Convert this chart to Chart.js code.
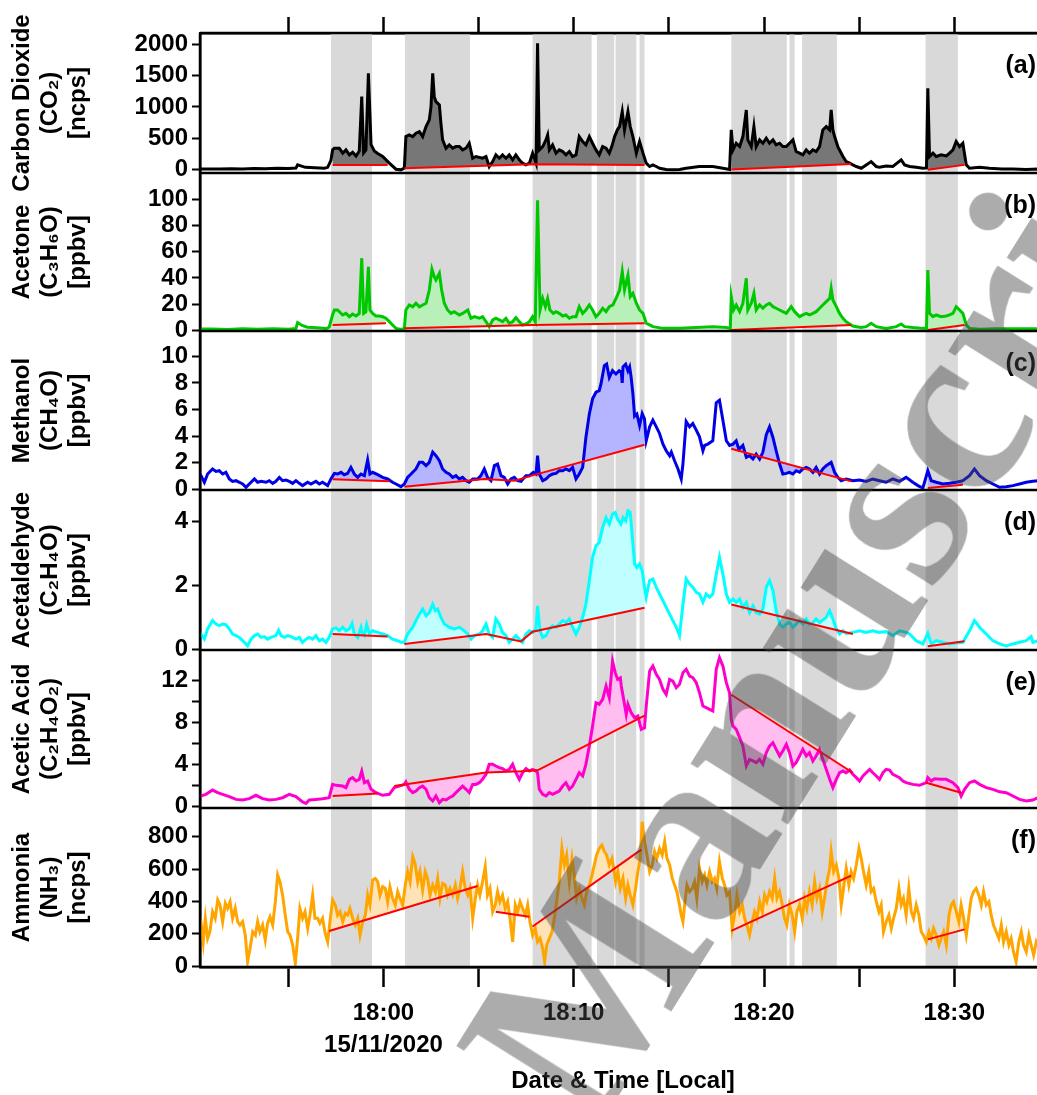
<!DOCTYPE html>
<html>
<head>
<meta charset="utf-8">
<script src="https://cdn.jsdelivr.net/npm/chart.js@4.4.0/dist/chart.umd.min.js"></script>
<style>
  html, body { margin: 0; padding: 0; background: #fff; overflow: hidden; }
  #wrap { position: relative; width: 1037px; height: 1095px; overflow: hidden; }
  #chart { position: absolute; left: 0; top: 0; }
  #mark {
    position: absolute; left: 594px; top: 1137px;
    font: bold 250px "Liberation Serif", "Times New Roman", serif;
    color: rgba(70, 70, 70, 0.45); white-space: nowrap; line-height: 1;
    transform-origin: 0 0; transform: rotate(-58deg) translateY(-0.84em);
    pointer-events: none;
  }
</style>
</head>
<body>
<div id="wrap">
  <canvas id="chart" width="1046" height="1095"></canvas>
  <div id="mark">Manuscript</div>
</div>
<script>
// time axis in minutes relative to 18:00 on 15/11/2020
const xMin = -9.64;
const xMax = 34.82;
const timeTicks = [-5, 0, 5, 10, 15, 20, 25, 30];
const timeLabels = ['', ['18:00', '15/11/2020'], '', '18:10', '', '18:20', '', '18:30'];

// shaded sampling periods
const bandStart = [-2.76, 1.13, 7.84, 11.22, 12.2, 13.46, 18.28, 21.34, 22.0, 28.49];
const bandEnd = [-0.6, 4.55, 10.94, 12.13, 13.29, 13.72, 21.2, 21.61, 23.83, 30.19];

// y tick values
const aTicks = [0, 500, 1000, 1500, 2000];
const bTicks = [0, 20, 40, 60, 80, 100];
const cTicks = [0, 2, 4, 6, 8, 10];
const dTicks = [0, 2, 4];
const eTicks = [0, 2, 4, 6, 8, 10, 12];
const eLabels = ['0', '', '4', '', '8', '', '12'];
const fTicks = [0, 200, 400, 600, 800];

const aTitle = ['Carbon Dioxide', '(CO\u2082)', '[ncps]'];
const bTitle = ['Acetone', '(C\u2083H\u2086O)', '[ppbv]'];
const cTitle = ['Methanol', '(CH\u2084O)', '[ppbv]'];
const dTitle = ['Acetaldehyde', '(C\u2082H\u2084O)', '[ppbv]'];
const eTitle = ['Acetic Acid', '(C\u2082H\u2084O\u2082)', '[ppbv]'];
const fTitle = ['Ammonia', '(NH\u2083)', '[ncps]'];

// [minute, value]
const co2 = [[-9.85,10],[-9.3,15],[-8.6,12],[-8.0,18],[-7.4,14],[-6.8,20],[-6.2,16],[-5.6,25],[-5.0,20],[-4.6,28],[-4.51,80],[-4.3,60],[-4.1,40],[-3.6,32],[-3.1,25],[-2.93,40],[-2.76,150],[-2.67,320],[-2.58,344],[-2.32,344],[-2.14,265],[-1.97,317],[-1.79,238],[-1.62,280],[-1.44,220],[-1.27,300],[-1.14,1164],[-1.04,270],[-0.92,317],[-0.79,1534],[-0.65,400],[-0.48,300],[-0.30,260],[-0.04,212],[0.31,106],[0.66,10],[0.92,0],[1.10,30],[1.18,529],[1.36,555],[1.54,529],[1.71,582],[1.89,608],[2.06,529],[2.24,688],[2.41,794],[2.50,1005],[2.59,1534],[2.67,1164],[2.76,1084],[2.94,1031],[3.02,741],[3.11,476],[3.29,344],[3.46,397],[3.64,344],[3.81,370],[3.99,370],[4.16,317],[4.34,344],[4.51,423],[4.69,185],[4.86,212],[5.21,185],[5.39,212],[5.56,53],[5.74,132],[5.91,238],[6.09,185],[6.26,238],[6.44,185],[6.61,238],[6.79,159],[6.96,238],[7.14,159],[7.31,106],[7.49,79],[7.67,106],[7.84,265],[8.02,106],[8.10,2010],[8.19,317],[8.37,370],[8.54,476],[8.63,555],[8.72,317],[8.89,397],[9.07,265],[9.24,317],[9.42,291],[9.59,238],[9.77,291],[9.94,212],[10.12,238],[10.29,529],[10.47,450],[10.64,397],[10.82,529],[10.99,423],[11.17,317],[11.34,238],[11.52,370],[11.70,344],[11.87,265],[12.0,370],[12.15,529],[12.3,640],[12.41,688],[12.55,926],[12.67,635],[12.85,926],[12.97,688],[13.11,529],[13.29,265],[13.46,450],[13.64,265],[13.81,106],[13.99,53],[14.16,79],[14.34,53],[14.51,26],[14.86,5],[15.21,0],[15.56,5],[15.91,26],[16.6,53],[17.31,53],[17.84,26],[18.19,5],[18.28,635],[18.37,317],[18.54,423],[18.72,370],[18.89,529],[19.07,952],[19.15,476],[19.33,370],[19.47,688],[19.59,370],[19.77,476],[19.94,423],[20.12,503],[20.29,423],[20.47,476],[20.64,397],[20.82,423],[20.99,370],[21.17,370],[21.34,423],[21.52,476],[21.69,291],[21.87,265],[22.04,238],[22.22,317],[22.39,265],[22.57,317],[22.74,291],[22.92,370],[23.09,635],[23.27,688],[23.45,635],[23.53,952],[23.62,635],[23.71,529],[23.88,370],[24.15,212],[24.32,132],[24.50,106],[24.67,79],[24.85,53],[25.11,26],[25.37,79],[25.63,132],[25.90,53],[26.07,40],[26.42,60],[26.77,53],[27.21,159],[27.39,79],[27.65,53],[28.0,40],[28.35,26],[28.54,30],[28.61,1296],[28.70,212],[28.88,265],[29.05,212],[29.31,238],[29.58,222],[29.75,265],[29.93,317],[30.10,450],[30.28,370],[30.45,423],[30.63,79],[30.80,26],[31.33,40],[31.85,26],[32.5,15],[33.08,15],[33.78,5],[34.39,15],[34.9,10]];

const acetone = [[-9.85,1],[-9.0,1.2],[-8.2,0.8],[-7.4,1.3],[-6.6,0.9],[-5.8,1.4],[-5.0,1],[-4.6,1.5],[-4.51,6],[-4.3,4],[-4.0,2.5],[-3.5,2],[-3.0,1.5],[-2.85,2.5],[-2.67,12],[-2.58,15.6],[-2.41,15.6],[-2.14,11.8],[-1.97,13],[-1.79,10.5],[-1.62,12.5],[-1.44,11],[-1.27,13],[-1.14,55],[-1.04,13],[-0.92,14.3],[-0.79,48.5],[-0.71,15.6],[-0.57,13],[-0.39,11],[-0.22,11],[-0.04,10.5],[0.13,9.3],[0.31,6.7],[0.48,4.2],[0.66,1.6],[0.92,0.8],[1.10,1.6],[1.18,15.6],[1.36,19.4],[1.54,18],[1.71,20.7],[1.89,18],[2.06,19.4],[2.24,20.7],[2.41,30.8],[2.55,46.5],[2.67,40.9],[2.76,38.4],[2.94,43.5],[3.06,30.8],[3.20,20.7],[3.37,15.6],[3.55,13],[3.72,14.3],[3.99,11.8],[4.16,13],[4.43,15.6],[4.60,9.3],[4.78,10.5],[5.04,9.3],[5.21,10.5],[5.39,6.7],[5.56,2.9],[5.74,8],[5.91,9.3],[6.09,8],[6.26,6.7],[6.44,9.3],[6.61,5.5],[6.79,6.7],[6.96,9.8],[7.14,6.7],[7.31,4.2],[7.49,4.9],[7.67,6.7],[7.84,10.5],[7.98,6.7],[8.10,99],[8.23,15.6],[8.37,24.4],[8.51,18.1],[8.63,24.4],[8.75,15.6],[8.93,13],[9.07,14.3],[9.24,13],[9.42,11],[9.59,11.8],[9.77,9.3],[9.94,10.5],[10.12,10.5],[10.29,18.1],[10.47,13],[10.64,15.6],[10.82,19.4],[10.99,15.6],[11.17,10.5],[11.34,13],[11.52,16.9],[11.70,14.3],[11.87,18.1],[12.06,19.4],[12.24,25],[12.41,30.8],[12.55,44.8],[12.67,30.8],[12.85,42],[12.97,25.7],[13.11,28.3],[13.29,20.7],[13.46,15.6],[13.64,13],[13.81,5.5],[13.99,4.2],[14.16,2.9],[14.69,1.6],[15.56,1.6],[16.44,2.2],[17.31,2.9],[18.02,2.2],[18.23,1.6],[18.28,25.7],[18.40,15.6],[18.54,19.4],[18.72,14.3],[18.89,20.7],[19.07,39.7],[19.15,15.6],[19.33,20.7],[19.47,28.3],[19.59,15.6],[19.77,19.4],[19.94,16.9],[20.12,19.4],[20.29,20.7],[20.47,18.1],[20.64,16.9],[20.82,15.6],[20.99,14.3],[21.17,13],[21.43,18.1],[21.61,14.3],[21.87,10.5],[22.04,11.8],[22.22,13],[22.39,11.8],[22.57,13],[22.74,14.3],[22.92,16.9],[23.09,19.4],[23.27,21.9],[23.45,24.4],[23.53,32],[23.62,23.2],[23.80,18.1],[23.97,13],[24.15,9.3],[24.32,6.7],[24.50,4.9],[24.67,3.4],[24.85,2.9],[25.11,2.2],[25.37,2.9],[25.63,5.5],[25.90,2.9],[26.42,1.6],[26.95,2.9],[27.21,4.9],[27.39,2.9],[27.82,2.2],[28.35,1.6],[28.54,1.6],[28.61,46],[28.70,13],[28.88,10.5],[29.05,11.8],[29.31,10.5],[29.58,11],[29.75,11.8],[29.93,13],[30.10,18.1],[30.28,15.6],[30.45,13],[30.63,4.2],[30.80,1.6],[31.33,0.9],[32.2,1.3],[33.08,1.3],[34.39,1.3],[34.9,1.2]];

const methanol = [[-9.85,0.9],[-9.59,1.03],[-9.41,0.53],[-9.24,1.15],[-8.98,1.53],[-8.80,1.35],[-8.63,1.4],[-8.45,1.15],[-8.28,1.28],[-8.10,0.78],[-7.93,0.6],[-7.75,0.65],[-7.57,0.53],[-7.40,0.4],[-7.22,0.15],[-7.05,0.4],[-6.78,0.78],[-6.61,0.53],[-6.43,0.6],[-6.17,0.53],[-6.0,0.65],[-5.82,0.45],[-5.65,0.6],[-5.47,0.9],[-5.30,0.65],[-5.12,0.7],[-4.95,0.6],[-4.77,0.45],[-4.60,0.65],[-4.42,0.45],[-4.25,0.28],[-3.98,0.53],[-3.81,0.4],[-3.55,0.6],[-3.37,0.4],[-3.20,0.53],[-2.93,0.28],[-2.76,0.78],[-2.58,1.2],[-2.41,1.15],[-2.23,1.28],[-2.06,1.1],[-1.88,1.2],[-1.71,1.65],[-1.53,1.15],[-1.35,0.9],[-1.18,1.15],[-1.00,1.03],[-0.83,2.2],[-0.71,1.15],[-0.57,1.28],[-0.30,1.1],[-0.04,0.9],[0.22,0.78],[0.48,0.53],[0.66,0.4],[0.92,0.2],[1.10,0.4],[1.27,0.9],[1.45,1.15],[1.71,1.53],[1.89,2.03],[2.06,2.03],[2.24,1.78],[2.41,2.03],[2.59,2.8],[2.76,2.53],[2.94,2.15],[3.11,1.53],[3.29,1.28],[3.46,1.15],[3.64,0.9],[3.81,1.03],[3.99,0.78],[4.16,0.9],[4.34,0.65],[4.51,0.53],[4.69,0.78],[4.95,0.78],[5.12,1.03],[5.30,1.53],[5.47,0.9],[5.65,0.65],[5.83,1.78],[6.00,1.9],[6.18,1.03],[6.35,0.9],[6.53,0.4],[6.70,0.78],[6.88,0.9],[7.05,0.65],[7.23,0.6],[7.49,1.03],[7.67,1.03],[7.88,1.28],[8.02,1.15],[8.10,2.53],[8.19,1.15],[8.37,0.65],[8.54,0.78],[8.72,1.03],[8.89,1.15],[9.07,1.2],[9.24,1.4],[9.42,1.4],[9.59,1.53],[9.77,1.4],[9.94,1.65],[10.12,0.78],[10.29,1.15],[10.47,1.65],[10.64,3.9],[10.82,5.66],[10.99,6.8],[11.17,7.3],[11.34,7.42],[11.43,7.9],[11.61,9.3],[11.73,9.42],[11.87,8.4],[12.04,8.92],[12.22,8.67],[12.39,8.92],[12.50,8.8],[12.55,8.0],[12.59,9.2],[12.73,9.4],[12.85,8.9],[12.94,9.2],[13.02,8.4],[13.11,7.2],[13.20,5.5],[13.32,5.66],[13.46,4.8],[13.60,5.7],[13.72,5.3],[13.81,3.65],[13.99,4.7],[14.16,5.2],[14.34,4.7],[14.51,4.2],[14.69,3.4],[14.86,2.9],[15.04,2.53],[15.13,2.8],[15.30,2.15],[15.48,1.53],[15.65,0.78],[15.74,1.9],[15.91,5.1],[16.09,4.7],[16.26,4.95],[16.44,4.45],[16.61,3.95],[16.79,2.9],[16.88,3.3],[17.05,3.4],[17.31,3.65],[17.49,6.5],[17.66,6.7],[17.84,5.2],[18.02,3.65],[18.19,3.3],[18.37,3.4],[18.54,3.65],[18.68,3.0],[18.89,3.3],[19.07,2.4],[19.24,2.53],[19.42,2.28],[19.59,2.65],[19.77,2.28],[19.94,2.78],[20.12,4.1],[20.29,4.7],[20.47,3.9],[20.64,2.9],[20.82,1.9],[20.99,1.15],[21.17,1.2],[21.34,1.28],[21.52,1.15],[21.69,1.4],[21.87,1.28],[22.04,1.53],[22.22,1.65],[22.39,1.53],[22.57,1.28],[22.74,1.65],[22.92,1.15],[23.09,1.53],[23.27,1.78],[23.53,2.03],[23.71,1.28],[23.88,0.9],[24.06,0.65],[24.32,0.78],[24.67,0.65],[25.02,0.7],[25.37,0.6],[25.72,0.78],[26.07,0.65],[26.42,0.53],[26.77,0.78],[27.12,0.6],[27.47,0.9],[27.82,0.53],[28.09,0.28],[28.35,0.1],[28.61,1.4],[28.79,0.65],[29.05,0.53],[29.40,0.4],[29.75,0.45],[30.10,0.53],[30.45,0.65],[30.80,1.03],[31.06,1.53],[31.33,1.03],[31.68,0.65],[32.03,0.4],[32.38,0.15],[32.73,0.2],[33.08,0.28],[33.43,0.4],[33.78,0.53],[34.13,0.6],[34.39,0.65],[34.9,0.6]];

const acetaldehyde = [[-9.85,0.6],[-9.59,0.48],[-9.41,0.32],[-9.24,0.64],[-8.98,0.9],[-8.80,0.79],[-8.63,0.74],[-8.45,0.79],[-8.28,0.77],[-8.10,0.64],[-7.93,0.48],[-7.75,0.43],[-7.57,0.375],[-7.31,0.22],[-7.14,0.11],[-6.96,0.32],[-6.78,0.43],[-6.61,0.48],[-6.43,0.375],[-6.26,0.4],[-6.09,0.32],[-5.91,0.375],[-5.65,0.43],[-5.51,0.6],[-5.38,0.43],[-5.21,0.375],[-5.03,0.43],[-4.86,0.4],[-4.60,0.32],[-4.42,0.375],[-4.25,0.22],[-4.07,0.32],[-3.90,0.375],[-3.72,0.32],[-3.55,0.43],[-3.37,0.27],[-3.20,0.32],[-3.02,0.22],[-2.85,0.375],[-2.67,0.64],[-2.49,0.67],[-2.32,0.58],[-2.14,0.69],[-1.97,0.58],[-1.79,0.64],[-1.65,0.81],[-1.53,0.48],[-1.35,0.375],[-1.18,0.69],[-1.09,0.48],[-1.00,0.43],[-0.88,0.77],[-0.74,0.48],[-0.57,0.58],[-0.30,0.53],[-0.04,0.48],[0.22,0.43],[0.48,0.32],[0.75,0.27],[0.92,0.22],[1.10,0.22],[1.27,0.48],[1.54,0.69],[1.71,0.9],[1.89,1.1],[2.06,1.26],[2.24,1.05],[2.41,1.15],[2.59,1.41],[2.73,1.21],[2.85,1.26],[3.02,1.0],[3.20,0.79],[3.46,0.69],[3.72,0.64],[3.99,0.69],[4.25,0.58],[4.43,0.48],[4.60,0.32],[4.78,0.43],[5.04,0.48],[5.21,0.58],[5.39,0.79],[5.56,0.48],[5.74,0.375],[5.91,0.95],[6.09,0.79],[6.26,0.53],[6.44,0.43],[6.61,0.22],[6.79,0.32],[6.96,0.43],[7.14,0.32],[7.31,0.22],[7.49,0.48],[7.67,0.58],[7.84,0.53],[8.02,0.64],[8.10,1.36],[8.23,0.58],[8.37,0.375],[8.54,0.43],[8.72,0.64],[8.89,0.74],[9.07,0.69],[9.24,0.79],[9.42,0.9],[9.59,0.84],[9.77,0.95],[9.94,0.69],[10.12,0.48],[10.29,0.69],[10.47,1.0],[10.64,1.41],[10.82,2.15],[10.99,2.88],[11.17,3.24],[11.34,3.34],[11.52,3.81],[11.70,4.12],[11.87,3.92],[12.04,4.23],[12.18,4.28],[12.31,4.07],[12.48,3.92],[12.59,4.12],[12.73,4.02],[12.85,4.33],[12.97,4.28],[13.08,3.5],[13.20,2.67],[13.32,2.56],[13.46,2.67],[13.60,2.46],[13.72,1.94],[13.81,1.63],[13.99,2.15],[14.16,2.2],[14.34,1.94],[14.51,1.73],[14.69,1.52],[14.86,1.31],[15.04,1.1],[15.21,0.9],[15.39,0.69],[15.56,0.43],[15.74,1.41],[15.91,2.2],[16.09,2.04],[16.26,1.94],[16.44,1.78],[16.61,1.73],[16.79,1.47],[16.96,1.73],[17.14,1.63],[17.31,1.73],[17.49,2.35],[17.66,2.88],[17.84,2.35],[18.02,1.73],[18.19,1.47],[18.37,1.57],[18.54,1.47],[18.72,1.57],[18.89,1.31],[19.07,1.47],[19.24,1.15],[19.42,1.36],[19.59,1.15],[19.77,1.1],[19.94,1.26],[20.12,1.94],[20.29,2.15],[20.47,1.84],[20.64,1.21],[20.82,0.79],[20.99,0.69],[21.17,0.79],[21.34,0.84],[21.52,0.69],[21.69,0.79],[21.87,0.9],[22.04,0.79],[22.22,0.95],[22.39,0.79],[22.57,0.84],[22.74,0.95],[22.92,0.84],[23.27,1.0],[23.45,1.21],[23.62,0.95],[23.80,0.64],[23.97,0.48],[24.15,0.58],[24.32,0.5],[24.67,0.53],[25.02,0.58],[25.37,0.53],[25.72,0.58],[26.07,0.53],[26.42,0.56],[26.77,0.43],[27.12,0.58],[27.47,0.53],[27.65,0.48],[28.00,0.27],[28.35,0.17],[28.61,0.5],[28.79,0.17],[29.05,0.27],[29.40,0.22],[29.75,0.17],[30.10,0.2],[30.45,0.22],[30.80,0.58],[31.06,0.9],[31.33,0.69],[31.68,0.48],[32.03,0.27],[32.38,0.17],[32.73,0.11],[33.08,0.17],[33.43,0.22],[33.78,0.27],[34.04,0.4],[34.13,0.22],[34.39,0.27],[34.9,0.3]];

const aceticAcid = [[-9.85,1.0],[-9.59,0.95],[-9.33,1.11],[-8.98,1.52],[-8.71,1.27],[-8.45,1.11],[-8.10,0.89],[-7.75,0.63],[-7.40,0.57],[-7.05,0.7],[-6.70,1.02],[-6.35,0.7],[-6.00,0.57],[-5.65,0.63],[-5.30,0.79],[-4.95,1.11],[-4.60,0.89],[-4.25,0.38],[-4.07,0.25],[-3.90,0.57],[-3.55,0.63],[-3.20,0.7],[-2.85,0.79],[-2.67,2.06],[-2.49,1.97],[-2.14,1.9],[-1.97,1.75],[-1.79,2.54],[-1.62,2.7],[-1.44,2.38],[-1.27,2.54],[-1.14,3.33],[-1.00,2.22],[-0.83,2.38],[-0.65,1.59],[-0.39,1.27],[-0.04,1.02],[0.31,1.11],[0.57,1.75],[0.83,1.9],[1.10,2.06],[1.18,2.29],[1.36,1.59],[1.54,1.27],[1.71,1.43],[1.89,1.75],[2.06,1.9],[2.24,1.59],[2.41,0.79],[2.59,0.48],[2.76,0.95],[2.94,0.32],[3.11,0.63],[3.29,0.57],[3.46,0.79],[3.64,0.95],[3.81,1.27],[3.99,1.59],[4.16,1.9],[4.34,1.59],[4.51,1.27],[4.69,2.06],[4.86,2.06],[5.04,2.22],[5.21,2.54],[5.39,3.02],[5.56,3.97],[5.74,3.97],[5.91,3.81],[6.09,3.65],[6.26,3.56],[6.44,3.33],[6.61,3.49],[6.79,3.97],[6.96,3.17],[7.14,2.54],[7.31,3.17],[7.49,3.56],[7.67,3.33],[7.84,3.49],[8.02,3.33],[8.10,3.17],[8.19,1.59],[8.37,1.11],[8.54,0.95],[8.72,1.27],[8.89,1.11],[9.07,1.27],[9.24,1.43],[9.42,1.9],[9.59,2.22],[9.77,1.59],[9.94,1.9],[10.12,2.54],[10.29,3.17],[10.47,2.86],[10.64,3.97],[10.82,5.71],[10.99,7.62],[11.17,9.84],[11.34,9.68],[11.52,10.16],[11.70,11.43],[11.87,10.3],[12.04,13.81],[12.18,12.7],[12.31,12.06],[12.45,12.2],[12.50,11.43],[12.67,9.68],[12.76,8.73],[12.85,9.68],[13.02,8.89],[13.20,8.41],[13.37,8.57],[13.55,7.3],[13.72,7.46],[13.81,9.52],[13.99,12.86],[14.16,13.33],[14.34,12.54],[14.51,12.06],[14.69,11.11],[14.86,10.63],[15.04,12.06],[15.21,11.9],[15.39,11.27],[15.56,11.59],[15.74,12.7],[15.91,13.02],[16.09,12.38],[16.26,12.22],[16.44,11.75],[16.61,10.79],[16.79,9.52],[16.96,9.37],[17.14,9.21],[17.31,9.05],[17.49,13.02],[17.66,14.13],[17.84,13.33],[18.02,11.75],[18.19,10.79],[18.28,8.25],[18.37,7.62],[18.54,7.3],[18.72,6.51],[18.89,5.71],[19.07,3.81],[19.24,4.44],[19.42,4.29],[19.59,4.13],[19.77,4.44],[19.94,3.97],[20.12,5.08],[20.29,5.71],[20.47,6.03],[20.64,5.4],[20.82,4.76],[20.99,5.24],[21.17,5.87],[21.34,5.08],[21.52,3.81],[21.69,4.13],[21.87,4.76],[22.04,5.4],[22.22,4.76],[22.39,5.08],[22.57,4.29],[22.74,4.76],[22.92,5.4],[23.09,4.44],[23.27,3.49],[23.45,2.54],[23.62,1.75],[23.80,2.54],[23.97,3.17],[24.15,3.33],[24.32,3.17],[24.50,3.43],[24.67,3.02],[24.85,2.7],[25.02,2.38],[25.20,2.86],[25.37,3.17],[25.55,3.49],[25.72,3.17],[25.90,2.86],[26.07,2.54],[26.25,3.17],[26.42,3.49],[26.60,3.43],[26.77,3.02],[26.95,2.86],[27.12,2.7],[27.30,2.38],[27.47,2.22],[27.82,2.06],[28.17,1.97],[28.53,2.22],[28.61,2.7],[28.79,2.38],[28.96,2.6],[29.31,2.54],[29.58,2.54],[29.93,2.22],[30.19,1.75],[30.36,0.95],[30.54,1.59],[30.80,2.22],[31.06,2.38],[31.33,2.06],[31.68,1.75],[32.03,1.59],[32.38,1.35],[32.73,1.27],[33.08,0.95],[33.43,0.63],[33.78,0.48],[34.13,0.57],[34.39,0.79],[34.9,0.8]];

const ammonia = [[-9.85,250],[-9.59,274],[-9.47,149],[-9.36,295],[-9.24,171],[-9.12,212],[-8.98,336],[-8.84,295],[-8.71,408],[-8.59,378],[-8.45,274],[-8.31,388],[-8.19,357],[-8.06,398],[-7.93,295],[-7.79,357],[-7.66,274],[-7.54,254],[-7.40,274],[-7.26,191],[-7.14,27],[-7.01,109],[-6.87,212],[-6.73,191],[-6.61,274],[-6.49,212],[-6.35,254],[-6.21,160],[-6.09,264],[-5.96,305],[-5.82,254],[-5.68,398],[-5.56,563],[-5.44,522],[-5.30,439],[-5.16,315],[-5.03,212],[-4.91,191],[-4.77,130],[-4.63,16],[-4.51,171],[-4.39,357],[-4.25,295],[-4.12,336],[-3.98,233],[-3.86,315],[-3.72,439],[-3.60,295],[-3.46,295],[-3.34,264],[-3.20,295],[-3.06,202],[-2.93,149],[-2.81,274],[-2.67,408],[-2.53,378],[-2.41,315],[-2.28,336],[-2.14,274],[-2.00,326],[-1.88,315],[-1.76,357],[-1.62,295],[-1.48,254],[-1.35,295],[-1.23,191],[-1.09,274],[-0.95,315],[-0.83,439],[-0.71,378],[-0.57,532],[-0.43,542],[-0.30,522],[-0.18,439],[-0.04,491],[0.10,480],[0.22,398],[0.34,491],[0.48,419],[0.62,378],[0.75,460],[0.87,419],[1.01,378],[1.15,501],[1.27,584],[1.40,522],[1.54,677],[1.66,635],[1.80,522],[1.92,584],[2.06,470],[2.20,584],[2.32,542],[2.45,439],[2.59,501],[2.73,460],[2.85,542],[2.97,419],[3.11,511],[3.25,501],[3.37,439],[3.50,480],[3.64,439],[3.78,501],[3.90,419],[4.02,480],[4.16,584],[4.30,480],[4.43,439],[4.55,480],[4.69,295],[4.83,419],[4.95,501],[5.07,439],[5.21,522],[5.35,615],[5.47,439],[5.60,480],[5.74,336],[5.88,378],[6.00,460],[6.12,398],[6.26,439],[6.40,357],[6.53,398],[6.65,295],[6.79,149],[6.93,378],[7.05,336],[7.18,398],[7.31,357],[7.46,315],[7.58,378],[7.70,274],[7.84,191],[7.98,233],[8.10,149],[8.23,171],[8.37,108],[8.47,27],[8.58,130],[8.72,171],[8.86,212],[8.98,295],[9.10,398],[9.24,522],[9.38,728],[9.51,625],[9.63,687],[9.77,522],[9.91,666],[10.03,563],[10.15,419],[10.29,480],[10.43,419],[10.56,378],[10.68,460],[10.82,501],[10.96,563],[11.08,625],[11.20,687],[11.34,728],[11.48,749],[11.61,708],[11.73,687],[11.87,625],[12.01,666],[12.13,584],[12.20,522],[12.32,584],[12.45,480],[12.59,542],[12.73,419],[12.85,501],[12.97,439],[13.11,378],[13.25,480],[13.37,584],[13.50,666],[13.60,893],[13.72,770],[13.85,687],[13.99,584],[14.13,625],[14.25,708],[14.37,666],[14.51,728],[14.65,687],[14.78,770],[14.90,666],[15.04,625],[15.18,542],[15.30,501],[15.42,460],[15.56,378],[15.65,315],[15.74,274],[15.83,378],[15.95,501],[16.09,460],[16.23,480],[16.35,522],[16.47,419],[16.61,604],[16.75,522],[16.88,563],[17.00,501],[17.14,584],[17.28,522],[17.40,542],[17.52,480],[17.66,646],[17.81,542],[17.93,501],[18.05,439],[18.19,460],[18.33,233],[18.45,315],[18.58,439],[18.72,336],[18.86,378],[18.98,295],[19.10,254],[19.24,191],[19.38,274],[19.50,336],[19.63,295],[19.77,398],[19.91,336],[20.03,439],[20.15,398],[20.29,460],[20.43,419],[20.56,542],[20.68,419],[20.82,460],[20.96,378],[21.08,295],[21.20,254],[21.34,378],[21.48,315],[21.61,212],[21.73,336],[21.87,378],[22.01,295],[22.13,419],[22.25,357],[22.39,460],[22.53,378],[22.66,522],[22.78,419],[22.92,480],[23.06,336],[23.18,419],[23.31,522],[23.45,604],[23.53,708],[23.66,584],[23.80,625],[23.94,542],[24.06,378],[24.18,480],[24.32,604],[24.46,501],[24.58,584],[24.71,542],[24.85,625],[24.99,728],[25.11,666],[25.23,584],[25.37,501],[25.51,584],[25.63,460],[25.76,480],[25.90,398],[26.04,336],[26.16,378],[26.28,212],[26.42,274],[26.56,315],[26.69,233],[26.81,295],[26.95,357],[27.09,480],[27.21,378],[27.33,419],[27.47,315],[27.61,480],[27.74,336],[27.86,295],[28.00,378],[28.14,315],[28.26,212],[28.38,191],[28.53,149],[28.67,212],[28.79,171],[28.91,233],[29.05,191],[29.19,130],[29.31,171],[29.44,212],[29.58,130],[29.72,315],[29.84,378],[29.96,398],[30.10,336],[30.24,274],[30.36,378],[30.49,295],[30.63,191],[30.77,315],[30.89,419],[31.01,460],[31.15,480],[31.29,439],[31.42,378],[31.54,460],[31.68,378],[31.82,398],[31.94,315],[32.06,254],[32.20,212],[32.34,171],[32.47,254],[32.59,149],[32.73,212],[32.87,130],[32.99,171],[33.11,89],[33.25,27],[33.39,149],[33.52,212],[33.64,130],[33.78,89],[33.92,191],[34.04,130],[34.17,68],[34.31,149],[34.39,130],[34.9,160]];

// red integration baselines, one polyline per sampling period
const co2Base = [[[-2.67,79],[0.22,79]], [[1.10,26],[7.84,90],[13.72,79]], [[18.28,5],[24.58,95]], [[28.61,0],[30.54,79]]];
const acetoneBase = [[[-2.67,4.2],[0.13,5.5]], [[1.10,1.6],[7.84,4.2],[13.72,5.5]], [[18.28,0.4],[24.58,4.2]], [[28.61,0.4],[30.54,4.2]]];
const methanolBase = [[[-2.67,0.75],[0.31,0.6]], [[1.10,0.2],[5.30,0.78],[6.90,0.65],[7.84,1.05],[13.72,3.35]], [[18.28,3.05],[24.6,0.6]], [[28.61,0.1],[30.45,0.35]]];
const acetaldehydeBase = [[[-2.67,0.48],[0.22,0.4]], [[1.10,0.17],[5.39,0.48],[7.23,0.25],[7.84,0.55],[13.72,1.3]], [[18.28,1.4],[24.67,0.48]], [[28.61,0.1],[30.54,0.25]]];
const aceticAcidBase = [[[-2.67,0.95],[-0.30,1.2]], [[0.57,1.9],[5.39,3.2],[7.23,3.3],[8.10,3.4],[13.72,8.6]], [[18.28,10.6],[24.67,3.17]], [[28.53,2.22],[30.36,1.27]]];
const ammoniaBase = [[[-2.85,217],[4.95,495]], [[5.90,336],[7.67,305]], [[7.84,245],[13.55,720]], [[18.28,217],[24.58,560]], [[28.61,165],[30.54,227]]];

const FONT = '"Liberation Sans", Arial, sans-serif';

const panels = [
    { id: 'yA', data: co2, base: co2Base, ticks: aTicks, title: aTitle, tag: '(a)', min: -50, max: 2175, h: 140, line: '#000000', fill: '#777777' },
    { id: 'yB', data: acetone, base: acetoneBase, ticks: bTicks, title: bTitle, tag: '(b)', min: -0.4, max: 119.8, h: 158, line: '#00c800', fill: '#b9efb9' },
    { id: 'yC', data: methanol, base: methanolBase, ticks: cTicks, title: cTitle, tag: '(c)', min: -0.05, max: 11.9, h: 159, line: '#0000e6', fill: '#b4b4ff' },
    { id: 'yD', data: acetaldehyde, base: acetaldehydeBase, ticks: dTicks, title: dTitle, tag: '(d)', min: -0.02, max: 4.98, h: 160, line: '#00ffff', fill: '#c0ffff' },
    { id: 'yE', data: aceticAcid, base: aceticAcidBase, ticks: eTicks, labels: eLabels, title: eTitle, tag: '(e)', min: -0.19, max: 14.86, h: 158, line: '#ff00cc', fill: '#ffbdf0' },
    { id: 'yF', data: ammonia, base: ammoniaBase, ticks: fTicks, title: fTitle, tag: '(f)', min: -6, max: 978, h: 159, line: '#ffa500', fill: '#ffe3b8' }
];

function toPoints(arr) {
    return arr.map(([x, y]) => ({ x: x, y: y }));
}

function baseToPoints(segments) {
    const out = [];
    segments.forEach((seg, i) => {
        if (i > 0) out.push({ x: seg[0][0], y: null });
        seg.forEach(([x, y]) => out.push({ x: x, y: y }));
    });
    return out;
}

const datasets = [];
panels.forEach(p => {
    const baseIndex = datasets.length + 1;
    datasets.push({
        data: toPoints(p.data),
        yAxisID: p.id,
        borderColor: p.line,
        borderWidth: 3,
        pointRadius: 0,
        tension: 0,
        order: 1,
        fill: { target: baseIndex, above: p.fill, below: p.fill }
    });
    datasets.push({
        data: baseToPoints(p.base),
        yAxisID: p.id,
        borderColor: '#ff0000',
        borderWidth: 2,
        pointRadius: 0,
        tension: 0,
        order: 0,
        fill: false
    });
});

const tickFont = { family: FONT, size: 24, weight: 'bold' };

const scales = {
    x: {
        type: 'linear',
        position: 'bottom',
        min: xMin,
        max: xMax,
        afterBuildTicks: s => { s.ticks = timeTicks.map(v => ({ value: v })); },
        afterFit: s => { s.height = 128; },
        ticks: {
            autoSkip: false,
            maxRotation: 0,
            color: '#000',
            padding: 10,
            font: { family: FONT, size: 24, weight: 'bold', lineHeight: 1.33 },
            callback: (v, i) => timeLabels[i]
        },
        grid: { drawOnChartArea: false, drawTicks: true, tickLength: 20, tickWidth: 2.5, tickColor: '#000' },
        border: { color: '#000', width: 2.5 },
        title: {
            display: true,
            text: 'Date & Time [Local]',
            color: '#000',
            padding: { top: 0, bottom: 0 },
            font: { family: FONT, size: 24, weight: 'bold', lineHeight: 1.1 }
        }
    },
    x2: {
        type: 'linear',
        position: 'top',
        min: xMin,
        max: xMax,
        afterBuildTicks: s => { s.ticks = timeTicks.map(v => ({ value: v })); },
        afterFit: s => { s.height = 33; },
        ticks: { display: false },
        grid: { drawOnChartArea: false, drawTicks: true, tickLength: 16, tickWidth: 2.5, tickColor: '#000' },
        border: { color: '#000', width: 2.5 }
    }
};

panels.forEach((p, i) => {
    scales[p.id] = {
        type: 'linear',
        position: 'left',
        stack: 'panels',
        stackWeight: p.h,
        weight: panels.length - i,
        min: p.min,
        max: p.max,
        afterBuildTicks: s => { s.ticks = p.ticks.map(v => ({ value: v })); },
        afterFit: s => { s.width = 200; },
        ticks: {
            autoSkip: false,
            color: '#000',
            padding: 4,
            font: tickFont,
            callback: (v, idx) => p.labels ? p.labels[idx] : String(v)
        },
        grid: { drawOnChartArea: false, drawTicks: true, tickLength: 8, tickWidth: 2, tickColor: '#000' },
        border: { color: '#000', width: 2.5 },
        title: {
            display: true,
            text: p.title,
            color: '#000',
            padding: { top: 8, bottom: 0 },
            font: { family: FONT, size: 24, weight: 'bold', lineHeight: 1.17 }
        }
    };
});

// grey sampling bands behind the traces, frame and panel letters on top
const panelPlugin = {
    id: 'panelDecor',
    beforeDatasetsDraw(chart) {
        const { ctx, chartArea } = chart;
        const x = chart.scales.x;
        ctx.save();
        ctx.fillStyle = '#d9d9d9';
        bandStart.forEach((s, i) => {
            const x0 = x.getPixelForValue(s);
            const x1 = x.getPixelForValue(bandEnd[i]);
            ctx.fillRect(x0, chartArea.top, x1 - x0, chartArea.bottom - chartArea.top);
        });
        ctx.restore();
    },
    afterDatasetsDraw(chart) {
        const { ctx, chartArea } = chart;
        ctx.save();
        ctx.strokeStyle = '#000';
        ctx.lineWidth = 2.5;
        ctx.beginPath();
        ctx.moveTo(chartArea.left, chartArea.top);
        ctx.lineTo(chartArea.right, chartArea.top);
        ctx.moveTo(chartArea.left, chartArea.top);
        ctx.lineTo(chartArea.left, chartArea.bottom);
        panels.forEach(p => {
            const s = chart.scales[p.id];
            ctx.moveTo(chartArea.left, s.bottom);
            ctx.lineTo(chartArea.right, s.bottom);
        });
        ctx.stroke();

        ctx.fillStyle = '#000';
        ctx.font = 'bold 25px ' + FONT;
        ctx.textAlign = 'right';
        ctx.textBaseline = 'middle';
        panels.forEach(p => {
            const s = chart.scales[p.id];
            ctx.fillText(p.tag, chartArea.right - 10, s.top + 33);
        });
        ctx.restore();
    }
};

const ctx = document.getElementById('chart').getContext('2d');
new Chart(ctx, {
    type: 'line',
    data: { datasets: datasets },
    options: {
        responsive: false,
        animation: false,
        devicePixelRatio: 1,
        layout: { padding: 0 },
        plugins: { legend: { display: false }, tooltip: { enabled: false } },
        scales: scales
    },
    plugins: [panelPlugin]
});
</script>
</body>
</html>
